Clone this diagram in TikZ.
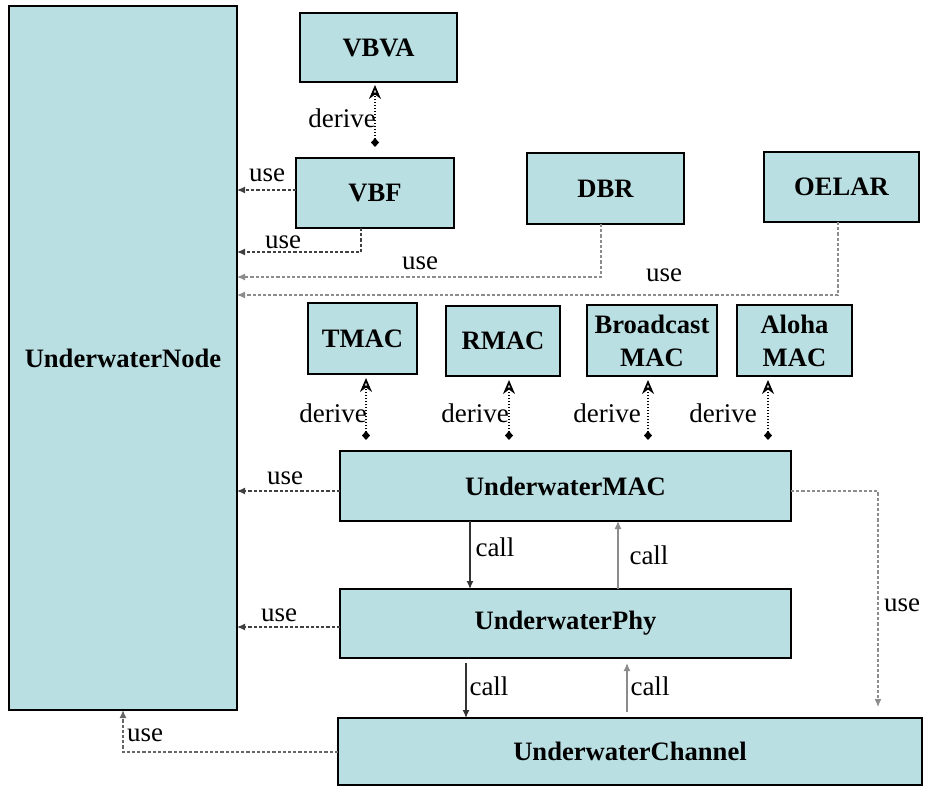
\documentclass[tikz,border=0pt]{standalone}
\usepackage{fontspec}
\setmainfont{Liberation Serif}
\usetikzlibrary{arrows.meta}
\definecolor{boxfill}{HTML}{BADFE2}
\begin{document}
\begin{tikzpicture}[x=0.5pt,y=-0.5pt,
  box/.style={draw=black, line width=0.8pt, fill=boxfill, inner sep=0pt, outer sep=0pt,
    font=\fontsize{13.3}{16.5}\selectfont\bfseries, align=center},
  lbl/.style={font=\fontsize{13.5}{15}\selectfont, inner sep=0pt},
  usearr/.style={draw=black!75, line width=0.6pt, dash pattern=on 1.6pt off 1pt,
    -{Latex[length=4pt,width=3.5pt]}},
  uselight/.style={usearr, draw=black!45},
  derivearr/.style={draw=black, line width=0.7pt, dash pattern=on 0.6pt off 0.9pt,
    {Diamond[length=4.5pt,width=4pt,fill=black]}-{Stealth[open,length=7pt,width=6pt,line width=0.9pt]}},
  callarr/.style={draw=black!80, line width=0.6pt, -{Latex[length=4pt,width=3.5pt]}},
  calllight/.style={callarr, draw=black!45}
]
\useasboundingbox (0,0) rectangle (928,787);

% boxes
\node[box, minimum width=114pt, minimum height=352pt] (Node) at (123,358) {UnderwaterNode};
\node[box, minimum width=78.5pt, minimum height=34.5pt] (VBVA) at (378.5,47.5) {VBVA};
\node[box, minimum width=79pt, minimum height=35pt] (VBF) at (375,193) {VBF};
\node[box, minimum width=78.5pt, minimum height=35.5pt] (DBR) at (605.5,188.5) {DBR};
\node[box, minimum width=77.5pt, minimum height=35pt] (OELAR) at (841.5,187) {OELAR};
\node[box, minimum width=54.5pt, minimum height=35.5pt] (TMAC) at (362.5,338.5) {TMAC};
\node[box, minimum width=57pt, minimum height=35pt] (RMAC) at (503,341) {RMAC};
\node[box, minimum width=65pt, minimum height=35.5pt] (BMAC) at (652,340.5) {Broadcast\\MAC};
\node[box, minimum width=57.5pt, minimum height=35.5pt] (AMAC) at (794.5,340.5) {Aloha\\MAC};
\node[box, minimum width=225.5pt, minimum height=35pt] (MAC) at (565.5,486) {UnderwaterMAC};
\node[box, minimum width=225.5pt, minimum height=34.5pt] (Phy) at (565.5,623.5) {UnderwaterPhy};
\node[box, minimum width=292pt, minimum height=33.5pt] (Chan) at (630,751.5) {UnderwaterChannel};

% helper coordinates
\coordinate (dT) at (366,0);
\coordinate (dR) at (509,0);
\coordinate (dB) at (648,0);
\coordinate (dA) at (768,0);
\coordinate (c1) at (361,252);
\coordinate (c2) at (601,277);
\coordinate (c3) at (838,295);
\coordinate (c4) at (0,491);
\coordinate (c5) at (0,627);
\coordinate (c6) at (123,752);
\coordinate (c7) at (878,491);
\coordinate (c0) at (0,190);
\coordinate (k1) at (470,0);
\coordinate (k2) at (618,0);
\coordinate (k3) at (466,0);
\coordinate (k4) at (627,0);

% derive arrows
\draw[derivearr, shorten <=5.5pt, shorten >=1.5pt] (VBF.north) -- (VBF.north |- VBVA.south);
\draw[derivearr, shorten <=5.5pt, shorten >=2pt] (MAC.north -| dT) -- (TMAC.south -| dT);
\draw[derivearr, shorten <=5.5pt, shorten >=2pt] (MAC.north -| dR) -- (RMAC.south -| dR);
\draw[derivearr, shorten <=5.5pt, shorten >=2pt] (MAC.north -| dB) -- (BMAC.south -| dB);
\draw[derivearr, shorten <=5.5pt, shorten >=2pt] (MAC.north -| dA) -- (AMAC.south -| dA);

% use arrows
\draw[usearr] (VBF.west |- c0) -- (Node.east |- c0);
\draw[usearr] (VBF.south -| c1) |- (Node.east |- c1);
\draw[uselight] (DBR.south -| c2) |- (Node.east |- c2);
\draw[uselight] (OELAR.south -| c3) |- (Node.east |- c3);
\draw[usearr] (MAC.west |- c4) -- (Node.east |- c4);
\draw[usearr] (Phy.west |- c5) -- (Node.east |- c5);
\draw[usearr, draw=black!60] (Chan.west |- c6) -| (Node.south);
\draw[uselight, shorten >=5.5pt] (MAC.east |- c7) -| (Chan.north -| c7);

% call arrows
\draw[callarr] (MAC.south -| k1) -- (Phy.north -| k1);
\draw[calllight] (Phy.north -| k2) -- (MAC.south -| k2);
\draw[callarr, shorten <=2.5pt] (Phy.south -| k3) -- (Chan.north -| k3);
\draw[calllight, shorten <=3pt, shorten >=2.5pt] (Chan.north -| k4) -- (Phy.south -| k4);

% labels
\node[lbl] (l1) at (342,118) {derive};
\node[lbl] (l2) at (333,413) {derive};
\node[lbl] (l3) at (475,413) {derive};
\node[lbl] (l4) at (607,413) {derive};
\node[lbl] (l5) at (723,413) {derive};
\node[lbl] (u1) at (267,175) {use};
\node[lbl] (u2) at (283,242) {use};
\node[lbl] (u3) at (420,263) {use};
\node[lbl] (u4) at (664,275) {use};
\node[lbl] (u5) at (285,478) {use};
\node[lbl] (u6) at (279,615) {use};
\node[lbl] (u7) at (902,605) {use};
\node[lbl] (u8) at (145,735) {use};
\node[lbl] (k1l) at (495,547) {call};
\node[lbl] (k2l) at (649,555) {call};
\node[lbl] (k3l) at (489,686) {call};
\node[lbl] (k4l) at (650,686) {call};
\end{tikzpicture}
\end{document}
